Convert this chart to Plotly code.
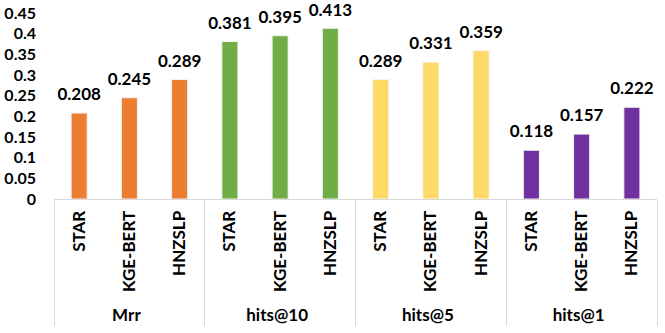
import plotly.graph_objects as go

groups = ["Mrr", "hits@10", "hits@5", "hits@1"]
models = ["STAR", "KGE-BERT", "HNZSLP"]
mrr = [0.208, 0.245, 0.289]
hits10 = [0.381, 0.395, 0.413]
hits5 = [0.289, 0.331, 0.359]
hits1 = [0.118, 0.157, 0.222]
colors = ["#ED7D31", "#70AD47", "#FFD966", "#7030A0"]

fig = go.Figure()
for g, vals, c in zip(groups, [mrr, hits10, hits5, hits1], colors):
    x = [[g] * len(models), models]
    fig.add_trace(go.Bar(
        x=x, y=vals,
        marker=dict(color=c, line=dict(color="#F4F4F4", width=1)),
        width=0.32,
        showlegend=False,
    ))
    # value labels, lifted above the bar tops by an invisible marker
    fig.add_trace(go.Scatter(
        x=x, y=vals,
        mode="markers+text",
        marker=dict(size=12, opacity=0),
        text=[f"{v:.3f}" for v in vals],
        textposition="top center",
        textfont=dict(size=17, color="black", family="Lato", weight="bold"),
        cliponaxis=False,
        hoverinfo="skip",
        showlegend=False,
    ))

n = len(groups) * len(models)
fig.update_layout(
    width=665, height=333,
    margin=dict(l=54, r=8, t=13, b=134),
    plot_bgcolor="white", paper_bgcolor="white",
    barmode="overlay",
    font=dict(family="Lato", size=17, color="black", weight="bold"),
)
fig.update_xaxes(
    range=[-0.5, n - 0.5],
    tickangle=-90, automargin=False,
    showline=True, linecolor="#D9D9D9", linewidth=1,
    showdividers=True, dividercolor="#D9D9D9", dividerwidth=1,
    ticks="", ticklabelstandoff=4, tickfont=dict(size=17, weight="bold"),
)
fig.update_yaxes(
    range=[0, 0.45], dtick=0.05, showgrid=False, zeroline=False,
    automargin=False, ticks="", ticklabelstandoff=17,
    tickfont=dict(size=16, weight="bold"),
)

# drop the default 8px body margin so the figure fills the window
fig.write_html("out.html", config={"displayModeBar": False},
               post_script="document.body.style.margin='0';")
